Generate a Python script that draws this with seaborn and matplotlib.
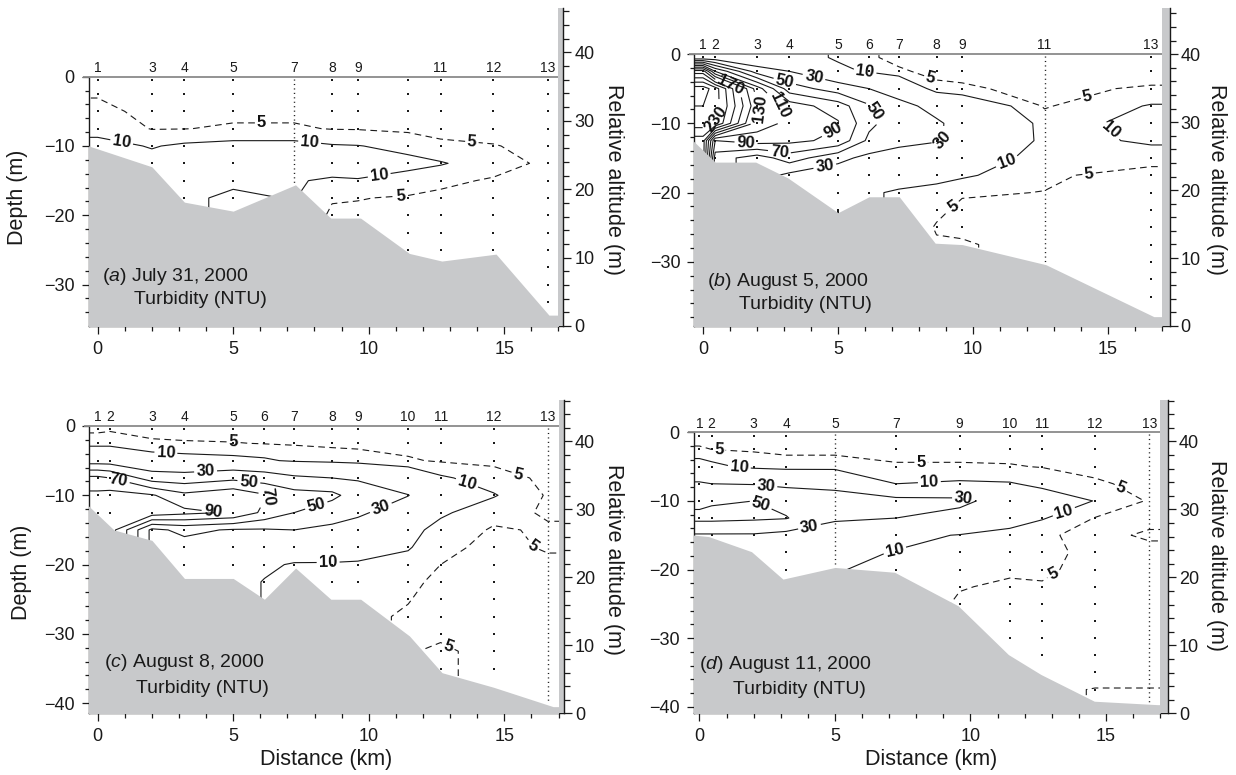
import numpy as np
import pandas as pd
import matplotlib
matplotlib.use("Agg")
import matplotlib.pyplot as plt
from matplotlib.ticker import FixedLocator
import seaborn as sns

sns.set_theme(style="ticks")
plt.rcParams.update({
    "font.family": ["Liberation Sans", "DejaVu Sans"],
    "mathtext.fontset": "custom",
    "mathtext.rm": "Liberation Sans",
    "mathtext.it": "Liberation Sans:italic",
    "axes.unicode_minus": True,
    "lines.dashed_pattern": [6.0, 4.0],
    "text.color": "#1a1a1a",
    "axes.edgecolor": "#1a1a1a",
    "xtick.color": "#1a1a1a",
    "ytick.color": "#1a1a1a",
})

# ---------------------------------------------------------------- data
# sampling depths of each cast (m below the surface)
DEPTHS = [0.5, 2.5, 5, 7.5, 10, 12.5, 15, 17.5, 20, 22.5, 25, 27.5, 30, 32.5, 35, 37.5, 40]

# (a) July 31, 2000
A_DATE = "July 31, 2000"
A_KM = [0.0, 2.0, 3.2, 5.0, 7.25, 8.65, 9.6, 11.45, 12.65, 14.6, 16.6]
A_NAMES = ["1", "3", "4", "5", "7", "8", "9", "", "11", "12", "13"]
A_FINE = ["7"]
A_NTU = [
    [3, 4.7, 6, 8, 12],
    [2, 3, 4, 4.8, 9.6, 12],
    [2, 3, 4, 4.9, 11, 13, 12, 11],
    [2, 3, 4, 5.5, 12, 13, 11, 9],
    [2, 3, 4, 5.5, 12, 12, 10.3],
    [2, 3, 4, 4.8, 10.5, 12, 9.5, 5.5, 4],
    [2, 3, 3.8, 4.7, 10.2, 11.5, 9.8, 5.2, 4],
    [2, 2.5, 3.2, 4, 8.5, 11.5, 8, 4.5, 3, 3, 3],
    [2, 2.5, 3, 3.5, 6, 10.5, 6, 4, 3, 3, 3],
    [2, 2.5, 3, 3.5, 5.2, 7, 4.5, 3.5, 3, 3, 3],
    [2, 2.5, 3, 3.5, 3.8, 4, 3.8, 3.5, 3, 3, 3, 3, 3, 3],
]
A_BED_KM = [-0.4, 2.0, 3.2, 5.0, 7.3, 8.6, 9.7, 11.5, 12.7, 14.7, 16.65, 17.0]
A_BED_Z = [-9.9, -13.0, -18.1, -19.4, -15.6, -20.4, -20.4, -25.5, -26.6, -25.6, -34.4, -34.4]
A_LEVELS = [5, 10]

# (b) August 5, 2000
B_DATE = "August 5, 2000"
B_KM = [0.0, 0.45, 2.0, 3.2, 5.0, 6.15, 7.25, 8.65, 9.6, 12.65, 16.6]
B_NAMES = ["1", "2", "3", "4", "5", "6", "7", "8", "9", "11", "13"]
B_FINE = ["11"]
B_NTU = [
    [12, 180, 260, 250, 240, 200],
    [15, 110, 240, 240, 230, 90, 60],
    [12, 40, 120, 135, 120, 100, 40],
    [14, 30, 60, 100, 105, 95, 60, 25],
    [9, 12, 40, 80, 92, 85, 35, 20, 12, 10],
    [5.5, 9, 30, 52, 55, 45, 25, 15, 11],
    [4, 5.5, 22, 35, 38, 35, 22, 14, 9],
    [3, 4, 6, 25, 32, 31, 20, 12, 8, 6, 4.6, 5.5],
    [3, 4, 5.5, 18, 25, 27, 18, 11, 5.5, 4, 4, 5.5],
    [2, 3, 4, 4.5, 7.5, 7.5, 5.5, 5.8, 4.9, 3, 3, 3, 3],
    [2, 3, 5.5, 10.5, 12, 11, 7, 3, 2, 2, 2, 2, 2, 2, 2],
]
B_BED_KM = [-0.4, 0.45, 1.95, 3.15, 5.0, 6.15, 7.27, 8.6, 9.6, 12.7, 16.7, 17.0]
B_BED_Z = [-12.4, -15.6, -15.6, -17.9, -22.9, -20.6, -20.6, -27.3, -27.5, -30.4, -37.9, -37.9]
B_LEVELS = [5, 10, 30, 50, 70, 90, 110, 130, 150, 170, 190, 210, 230, 250]

# (c) August 8, 2000
C_DATE = "August 8, 2000"
C_KM = [0.0, 0.45, 2.0, 3.2, 5.0, 6.15, 7.25, 8.65, 9.6, 11.45, 12.65, 14.6, 16.6]
C_NAMES = ["1", "2", "3", "4", "5", "6", "7", "8", "9", "10", "11", "12", "13"]
C_FINE = ["13"]
C_NTU = [
    [4, 8, 20, 75, 95, 95],
    [4.5, 8, 20, 70, 98, 100],
    [3, 6, 14, 40, 92, 102, 25],
    [3, 5.5, 13, 38, 75, 95, 35, 22, 16],
    [3, 5.2, 12, 45, 85, 88, 28, 18, 14],
    [3, 4.8, 11, 40, 72, 65, 28, 20, 12, 9.5],
    [3, 4.5, 9, 33, 58, 50, 30, 18, 9],
    [2.5, 4, 8, 30, 55, 38, 26, 17, 9, 6],
    [2.5, 4, 7, 28, 40, 33, 22, 14, 9, 6],
    [2, 3.5, 5.5, 18, 30.5, 20, 12, 10.5, 8, 6, 5.2, 4.5],
    [2, 3, 4.5, 11, 16, 11, 8, 6.5, 5, 4, 3.5, 3.5, 4, 6, 6],
    [2, 3, 4, 7, 10.5, 6.5, 4.5, 3.5, 3, 3, 3, 3, 3, 3, 3, 3],
    [2, 2.5, 3, 4, 4.5, 4.5, 5.5, 5.5, 4, 3, 3, 3, 3, 3, 3, 3, 3],
]
C_BED_KM = [-0.4, 0.6, 2.0, 3.2, 5.0, 6.15, 7.3, 8.6, 9.7, 11.5, 12.7, 14.6, 16.8, 17.0]
C_BED_Z = [-11.3, -15.0, -16.5, -22.0, -22.0, -25.0, -20.5, -25.0, -25.0, -30.3, -35.6, -37.7, -40.5, -40.5]
C_LEVELS = [5, 10, 30, 50, 70, 90]

# (d) August 11, 2000
D_DATE = "August 11, 2000"
D_KM = [0.0, 0.45, 2.0, 3.2, 5.0, 7.25, 9.6, 11.45, 12.65, 14.6, 16.6]
D_NAMES = ["1", "2", "3", "4", "5", "7", "9", "10", "11", "12", "13"]
D_FINE = ["5", "13"]
D_NTU = [
    [3.5, 5.5, 14, 32, 45, 55, 28],
    [3, 5, 12, 30, 48, 55, 28],
    [3, 4.5, 8, 29, 50, 53, 28, 20],
    [3, 4, 7, 26, 44, 51, 24, 15, 12],
    [3, 4, 7, 25, 38, 33, 18, 13, 10.5],
    [3, 3.5, 5.5, 10, 35, 30, 13, 9.5, 8],
    [3, 3.5, 5.5, 11, 34, 24, 9.5, 7, 6, 5.2, 4.5],
    [3, 3.5, 5.3, 10.5, 22, 13, 8, 6.5, 5.5, 4.5, 4, 4, 4],
    [3, 3.5, 4.8, 8.5, 14, 10.5, 5.5, 6.5, 6, 4.5, 4, 4, 4, 4],
    [3, 3.5, 4, 5.5, 9.8, 4.8, 4, 3.5, 3, 3, 3, 3, 3, 3, 3, 5.2],
    [3, 3, 3.5, 4, 4.5, 4, 5.5, 4, 3, 3, 3, 3, 3, 3, 3, 5.2],
]
D_BED_KM = [-0.4, 0.34, 1.92, 3.08, 5.0, 7.2, 9.55, 11.4, 12.6, 14.57, 16.9, 17.0]
D_BED_Z = [-14.9, -15.2, -17.4, -21.4, -19.7, -20.4, -25.3, -32.4, -35.3, -39.2, -39.7, -39.7]
D_LEVELS = [5, 10, 30, 50]

PANELS = {
    "a": dict(date=A_DATE, km=A_KM, names=A_NAMES, fine=A_FINE, ntu=A_NTU,
              bed_km=A_BED_KM, bed_z=A_BED_Z, levels=A_LEVELS),
    "b": dict(date=B_DATE, km=B_KM, names=B_NAMES, fine=B_FINE, ntu=B_NTU,
              bed_km=B_BED_KM, bed_z=B_BED_Z, levels=B_LEVELS),
    "c": dict(date=C_DATE, km=C_KM, names=C_NAMES, fine=C_FINE, ntu=C_NTU,
              bed_km=C_BED_KM, bed_z=C_BED_Z, levels=C_LEVELS),
    "d": dict(date=D_DATE, km=D_KM, names=D_NAMES, fine=D_FINE, ntu=D_NTU,
              bed_km=D_BED_KM, bed_z=D_BED_Z, levels=D_LEVELS),
}

# ---------------------------------------------------------------- layout
W, H = 1236, 775
BOX = {  # left, right, top, bottom (pixels)
    "a": (88.7, 563.3, 8, 326),
    "b": (694.4, 1169.5, 8, 326),
    "c": (89.0, 564.0, 400, 713.3),
    "d": (693.5, 1168.0, 400, 713.3),
}
XLIM = {"a": (-0.33, 17.18), "b": (-0.32, 17.28), "c": (-0.32, 17.2), "d": (-0.22, 17.29)}
YLIM = {"a": (-35.97, 9.91), "b": (-39.25, 6.64), "c": (-41.46, 3.75), "d": (-40.96, 4.71)}
ALT_TOP = {"a": 46.5, "b": 46.8, "c": 46.1, "d": 46.1}
BAR_START = 17.0
LEFT_LABEL = {"a": ("Depth (m)", -0.149, 0.405), "c": ("Depth (m)", -0.142, 0.45)}
RIGHT_LABEL = {"a": (1.105, 0.46), "b": (1.098, 0.46), "c": (1.105, 0.49), "d": (1.102, 0.505)}
NOTE_AT = {"a": ((0.16, -28.9), (1.35, -32.2)), "b": ((0.16, -32.8), (1.32, -36.2)),
           "c": ((0.22, -34.2), (1.43, -37.9)), "d": ((0.0, -33.9), (1.24, -37.5))}
LABEL_AT = {
    "a": {5: [(6.05, -7.0), (13.8, -9.9), (11.2, -16.8)],
          10: [(0.88, -9.6), (7.83, -8.9), (10.4, -14.7)]},
    "b": {5: [(8.45, -3.1), (14.25, -6.5), (14.3, -17.1), (9.4, -22.9)],
          10: [(6.0, -2.6), (11.3, -16.2), (14.8, -12.8)],
          30: [(4.11, -3.3), (8.97, -12.6), (4.49, -15.5)],
          50: [(3.05, -3.5), (6.24, -8.5)], 70: [(2.81, -15.2)],
          90: [(1.6, -12.1), (4.8, -11.1)], 110: [(2.81, -7.5)],
          130: [(2.07, -7.7)], 170: [(0.94, -6.0)], 230: [(0.33, -9.2)]},
    "c": {5: [(5.0, -2.6), (15.5, -7.1), (16.16, -16.8), (12.9, -32.2)],
          10: [(2.52, -3.3), (13.53, -9.8), (8.5, -19.4)],
          30: [(3.98, -6.5), (10.5, -12.7)], 50: [(5.58, -7.8), (8.06, -11.4)],
          70: [(0.77, -7.6), (6.46, -11.2)], 90: [(4.27, -11.7)]},
    "d": {5: [(0.71, -3.3), (8.18, -5.5), (15.57, -7.9), (13.08, -20.8)],
          10: [(1.47, -5.1), (8.48, -6.7), (13.46, -11.8), (7.27, -18.6)],
          30: [(2.45, -7.8), (9.76, -9.1), (4.03, -12.8)], 50: [(2.22, -11.1)]},
}

SEABED = "#c8c9cb"
INK = "#1a1a1a"
SURFACE = "#8a8a8a"
TICK_FS = 13
AXIS_FS = 15.5
NOTE_FS = 14
STATION_FS = 10
CLABEL_FS = 12


def section_grid(km, ntu, xlim):
    """Station casts on a depth x distance grid, padded to the panel edges."""
    grid = np.full((len(DEPTHS), len(km)), np.nan)
    for j, prof in enumerate(ntu):
        grid[:len(prof), j] = prof
    grid = pd.DataFrame(grid).ffill().to_numpy()
    grid = np.vstack([grid[:1], grid, grid[-1:]])
    grid = np.hstack([grid[:, :1], grid, grid[:, -1:]])
    xs = np.r_[xlim[0] - 0.05, km, xlim[1] + 0.3]
    zs = np.r_[0.0, -np.asarray(DEPTHS, float), -60.0]
    return xs, zs[::-1], grid[::-1]


fig = plt.figure(figsize=(W / 100, H / 100), dpi=100)

for key, p in PANELS.items():
    l, r, t, b = BOX[key]
    ax = fig.add_axes([l / W, 1 - b / H, (r - l) / W, (b - t) / H])
    ax2 = ax.twinx()
    x0, x1 = XLIM[key]
    y0, y1 = YLIM[key]

    # turbidity contours, one set per level so each can carry its own labels
    xs, zs, grid = section_grid(p["km"], p["ntu"], XLIM[key])
    for lv in p["levels"]:
        cs = ax.contour(xs, zs, grid, levels=[lv], colors=INK, linewidths=0.8,
                        linestyles="dashed" if lv == 5 else "solid", zorder=2)
        spots = LABEL_AT[key].get(lv, [])
        if spots and len(cs.allsegs[0]) > 0:
            txts = cs.clabel(manual=spots, inline=True, inline_spacing=2,
                             fmt="%d", fontsize=CLABEL_FS)
            for tx in txts:
                tx.set_fontweight("bold")
                tx.set_color("#111111")

    # seabed and the grey strip at the right end of the section
    ax.fill_between(p["bed_km"], p["bed_z"], y0 - 5, color=SEABED, lw=0, zorder=3)
    ax.axvspan(BAR_START, x1 + 1, color=SEABED, lw=0, zorder=3)

    # sea surface line
    ax.plot([x0 - 0.2, BAR_START], [0, 0], color=SURFACE, lw=1.3, zorder=5,
            solid_capstyle="butt", clip_on=False)

    # stations: names, sampling points
    bed_at = np.interp(p["km"], p["bed_km"], p["bed_z"])
    pts_x, pts_z = [], []
    for xk, name, prof, zb in zip(p["km"], p["names"], p["ntu"], bed_at):
        if name:
            ax.text(xk, 0.25, name, ha="center", va="bottom", fontsize=STATION_FS,
                    color=INK, zorder=6)
        if name in p["fine"]:
            ax.plot([xk, xk], [-0.3, zb + 0.3], color=INK, lw=1.0,
                    ls=(0, (0.8, 2.4)), zorder=4)
            continue
        for d in DEPTHS[:len(prof)]:
            if -d > zb + 0.25:
                pts_x.append(xk)
                pts_z.append(-d)
    sns.scatterplot(x=pts_x, y=pts_z, ax=ax, marker="s", s=3, color=INK,
                    linewidth=0, legend=False, zorder=4)

    # panel caption
    (tx1, ty1), (tx2, ty2) = NOTE_AT[key]
    ax.text(tx1, ty1, rf"($\mathit{{{key}}}$) {p['date']}", fontsize=NOTE_FS,
            ha="left", va="center", color=INK, zorder=6)
    ax.text(tx2, ty2, "Turbidity (NTU)", fontsize=NOTE_FS, ha="left", va="center",
            color=INK, zorder=6)

    # axes: depth on the left, relative altitude on the right
    ax.set_xlim(x0, x1)
    ax.set_ylim(y0, y1)
    ax2.set_ylim(0, ALT_TOP[key])
    ax.set_facecolor("none")
    for s in ("top", "right"):
        ax.spines[s].set_visible(False)
    for s in ("top", "left", "bottom"):
        ax2.spines[s].set_visible(False)
    for sp in (ax.spines["left"], ax.spines["bottom"], ax2.spines["right"]):
        sp.set_linewidth(1.0)
        sp.set_color(INK)
    ax.spines["left"].set_bounds(y0, 0)

    ax.yaxis.set_major_locator(FixedLocator(np.arange(0, y0, -10)))
    ax.yaxis.set_minor_locator(FixedLocator(np.arange(0, y0, -2)))
    ax.xaxis.set_major_locator(FixedLocator([0, 5, 10, 15]))
    ax.xaxis.set_minor_locator(FixedLocator(np.arange(0, 18)))
    ax2.yaxis.set_major_locator(FixedLocator([0, 10, 20, 30, 40]))
    ax2.yaxis.set_minor_locator(FixedLocator(np.arange(0, ALT_TOP[key], 2)))

    ax.tick_params(axis="y", which="major", left=True, direction="out",
                   length=5, width=0.9, pad=5, labelsize=TICK_FS)
    ax.tick_params(axis="y", which="minor", left=True, direction="out",
                   length=3, width=0.9)
    ax.tick_params(axis="x", which="major", bottom=True, direction="out",
                   length=5.8, width=0.9, pad=5, labelsize=TICK_FS)
    ax.tick_params(axis="x", which="minor", bottom=True, direction="out",
                   length=3.6, width=0.9)
    ax2.tick_params(axis="y", which="major", right=True, direction="out",
                    length=6, width=0.9, pad=2, labelsize=TICK_FS)
    ax2.tick_params(axis="y", which="minor", right=True, direction="out",
                    length=4.3, width=0.9)

    if key in LEFT_LABEL:
        txt, lx, ly = LEFT_LABEL[key]
        ax.set_ylabel(txt, fontsize=AXIS_FS, color=INK)
        ax.yaxis.set_label_coords(lx, ly)
        ax.yaxis.label.set_verticalalignment("center")
    ax2.set_ylabel("Relative altitude (m)", fontsize=AXIS_FS, rotation=270, color=INK)
    rx, ry = RIGHT_LABEL[key]
    ax2.yaxis.set_label_coords(rx, ry)
    ax2.yaxis.label.set_verticalalignment("center")
    if key in ("c", "d"):
        ax.set_xlabel("Distance (km)", fontsize=AXIS_FS, color=INK)
        ax.xaxis.set_label_coords(0.5, -0.149)
        ax.xaxis.label.set_verticalalignment("center")

fig.savefig("out.png", dpi=100)
